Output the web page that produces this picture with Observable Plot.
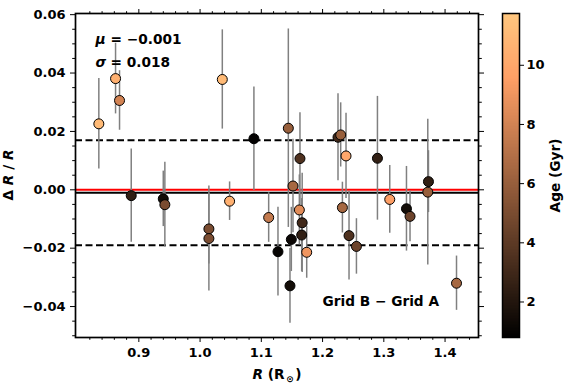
<!DOCTYPE html>
<html><head><meta charset="utf-8">
<script src="https://cdn.jsdelivr.net/npm/d3@7"></script>
<script src="https://cdn.jsdelivr.net/npm/@observablehq/plot@0.6"></script>
<style>
body{margin:0;background:#fff;}
#wrap{position:relative;width:570px;height:383px;font-family:"DejaVu Sans",sans-serif;}
#wrap svg{position:absolute;top:0;}
</style></head><body><div id="wrap"></div>
<script>
// ---- data ----
const radius = [0.8347,0.8620,0.8685,0.8876,0.9399,0.9425,1.0144,1.0144,1.0363,1.0482,1.0879,1.1120,1.1272,1.1441,1.1468,1.1490,1.1517,1.1631,1.1621,1.1667,1.1659,1.1741,1.2252,1.2296,1.2383,1.2324,1.2432,1.2553,1.2896,1.3097,1.3370,1.3428,1.3729,1.3718,1.4187];
const deltaR = [0.0226,0.0381,0.0306,-0.0020,-0.0031,-0.0051,-0.0134,-0.0167,0.0378,-0.0039,0.0175,-0.0095,-0.0212,0.0211,-0.0329,-0.0170,0.0013,0.0107,-0.0069,-0.0113,-0.0155,-0.0214,0.0180,0.0188,0.0116,-0.0061,-0.0157,-0.0194,0.0108,-0.0033,-0.0065,-0.0091,0.0028,-0.0008,-0.0320];
const errR = [0.0155,0.0121,0.0102,0.0160,0.0095,0.0145,0.0120,0.0180,0.0170,0.0066,0.0177,0.0085,0.0152,0.0340,0.0128,0.0110,0.0160,0.0157,0.0120,0.0170,0.0125,0.0089,0.0149,0.0110,0.0146,0.0087,0.0152,0.0095,0.0212,0.0116,0.0145,0.0087,0.0106,0.0250,0.0093];
const ageGyr = [11.0,10.5,8.0,2.5,1.5,5.0,5.0,5.0,11.0,10.5,0.9,7.5,1.0,6.0,1.5,1.2,6.5,3.5,8.5,3.0,2.5,9.0,3.0,6.0,10.0,6.5,3.5,4.5,2.5,9.5,1.5,4.5,2.5,6.0,6.5];
const meanVal = -0.001;
const sigmaVal = 0.018;
const xTicks = [0.9,1.0,1.1,1.2,1.3,1.4];
const xMinor = [0.82,0.84,0.86,0.88,0.92,0.94,0.96,0.98,1.02,1.04,1.06,1.08,1.12,1.14,1.16,1.18,1.22,1.24,1.26,1.28,1.32,1.34,1.36,1.38,1.42,1.44];
const yTicks = [-0.04,-0.02,0.00,0.02,0.04,0.06];
const yMinor = [-0.05,-0.045,-0.035,-0.03,-0.025,-0.015,-0.01,-0.005,0.005,0.01,0.015,0.025,0.03,0.035,0.045,0.05,0.055];
const ageTicks = [2,4,6,8,10];
const ageDomain = [0.8,11.75];
const muText = "= \u22120.001";
const sigmaText = "= 0.018";
const gridText = "Grid B \u2212 Grid A";
const cbLabel = "Age (Gyr)";

const data = radius.map((r,i)=>({r, d: deltaR[i], e: errR[i], a: ageGyr[i]}));
const copper = (t) => d3.rgb(Math.min(1,1.25*t)*255, 0.7812*t*255, 0.4975*t*255).formatHex();
const colorOpts = {type:"linear", domain: ageDomain, interpolate: copper};
const baseStyle = {fontFamily:"DejaVu Sans", fontSize:"13px", fontWeight:"bold", color:"black", background:"transparent", overflow:"visible"};
const annot = {fontFamily:"DejaVu Sans", fontSize:13.7, fontWeight:"bold", textAnchor:"start", lineAnchor:"middle", frameAnchor:"top-left", fill:"black"};

const main = Plot.plot({
  width:570, height:383, marginLeft:75, marginRight:92, marginTop:13, marginBottom:46,
  style: baseStyle,
  x: {domain:[0.7966,1.4546]},
  y: {domain:[-0.0506,0.0604]},
  color: colorOpts,
  marks: [
    Plot.ruleY([meanVal+sigmaVal, meanVal-sigmaVal], {stroke:"black", strokeWidth:2, strokeDasharray:"7,3.5"}),
    Plot.ruleY([0], {stroke:"red", strokeWidth:2}),
    Plot.ruleY([meanVal], {stroke:"black", strokeWidth:2}),
    Plot.ruleX(data, {x:"r", y1: d=>d.d-d.e, y2: d=>d.d+d.e, stroke:"#808080", strokeWidth:1.5}),
    Plot.dot(data, {x:"r", y:"d", r:5, fill:"a", stroke:"black", strokeWidth:1}),
    Plot.axisX({ticks:xTicks, tickFormat:d3.format(".1f"), tickSize:5, tickPadding:5, label:null}),
    Plot.axisX({ticks:xMinor, tickFormat:()=>"", tickSize:2.8, label:null}),
    Plot.axisX({anchor:"top", ticks:xTicks, tickFormat:()=>"", tickSize:5, label:null}),
    Plot.axisX({anchor:"top", ticks:xMinor, tickFormat:()=>"", tickSize:2.8, label:null}),
    Plot.axisY({ticks:yTicks, tickFormat:d3.format(".2f"), tickSize:5, tickPadding:5, label:null}),
    Plot.axisY({ticks:yMinor, tickFormat:()=>"", tickSize:2.8, label:null}),
    Plot.axisY({anchor:"right", ticks:yTicks, tickFormat:()=>"", tickSize:5, label:null}),
    Plot.axisY({anchor:"right", ticks:yMinor, tickFormat:()=>"", tickSize:2.8, label:null}),
    Plot.frame({stroke:"black", strokeWidth:1.7}),
    Plot.text(["\u03bc"], {...annot, dx:20, dy:26, fontStyle:"italic"}),
    Plot.text([muText], {...annot, dx:35, dy:26}),
    Plot.text(["\u03c3"], {...annot, dx:20, dy:49.5, fontStyle:"italic"}),
    Plot.text([sigmaText], {...annot, dx:35, dy:49.5}),
    Plot.text([gridText], {...annot, dx:247, dy:288})
  ]
});

// axis titles with mixed styling
const ms = d3.select(main);
const xl = ms.append("text").attr("x", 277).attr("y", 379).attr("text-anchor","middle")
  .attr("font-family","DejaVu Sans").attr("font-size",13.7).attr("font-weight","bold").attr("fill","black");
xl.append("tspan").attr("font-style","italic").text("R");
xl.append("tspan").text(" (R");
xl.append("tspan").attr("font-size",9).attr("dy",3).attr("dx",1.5).text("\u2299");
xl.append("tspan").attr("dy",-3).attr("dx",1.5).text(")");
const yl = ms.append("text").attr("transform","translate(13,175) rotate(-90)").attr("text-anchor","middle")
  .attr("font-family","DejaVu Sans").attr("font-size",13.7).attr("font-weight","bold").attr("fill","black");
yl.append("tspan").text("\u0394 ");
yl.append("tspan").attr("font-style","italic").text("R");
yl.append("tspan").text(" / ");
yl.append("tspan").attr("font-style","italic").text("R");

// colorbar
const nSteps = 220;
const steps = d3.range(nSteps).map(i => ({
  y1: ageDomain[0] + (ageDomain[1]-ageDomain[0])*i/nSteps,
  y2: ageDomain[0] + (ageDomain[1]-ageDomain[0])*(i+1)/nSteps
}));
const cb = Plot.plot({
  width:80, height:383, marginLeft:12, marginRight:51, marginTop:13, marginBottom:46,
  style: baseStyle,
  x: {domain:[0,1], axis:null},
  y: {domain: ageDomain},
  color: colorOpts,
  marks: [
    Plot.rect(steps, {x1:()=>0, x2:()=>1, y1:"y1", y2:"y2", fill:d=>(d.y1+d.y2)/2, shapeRendering:"crispEdges"}),
    Plot.axisY({anchor:"right", ticks:ageTicks, tickSize:4, tickPadding:3, label:null}),
    Plot.frame({stroke:"black", strokeWidth:1.5}),
    Plot.text([cbLabel], {frameAnchor:"right", dx:36, rotate:-90, textAnchor:"middle", lineAnchor:"middle", fontFamily:"DejaVu Sans", fontSize:13.7, fontWeight:"bold", fill:"black"})
  ]
});

const wrap = document.getElementById("wrap");
main.style.left = "0px";
cb.style.left = "490px";
wrap.appendChild(main);
wrap.appendChild(cb);
</script></body></html>
